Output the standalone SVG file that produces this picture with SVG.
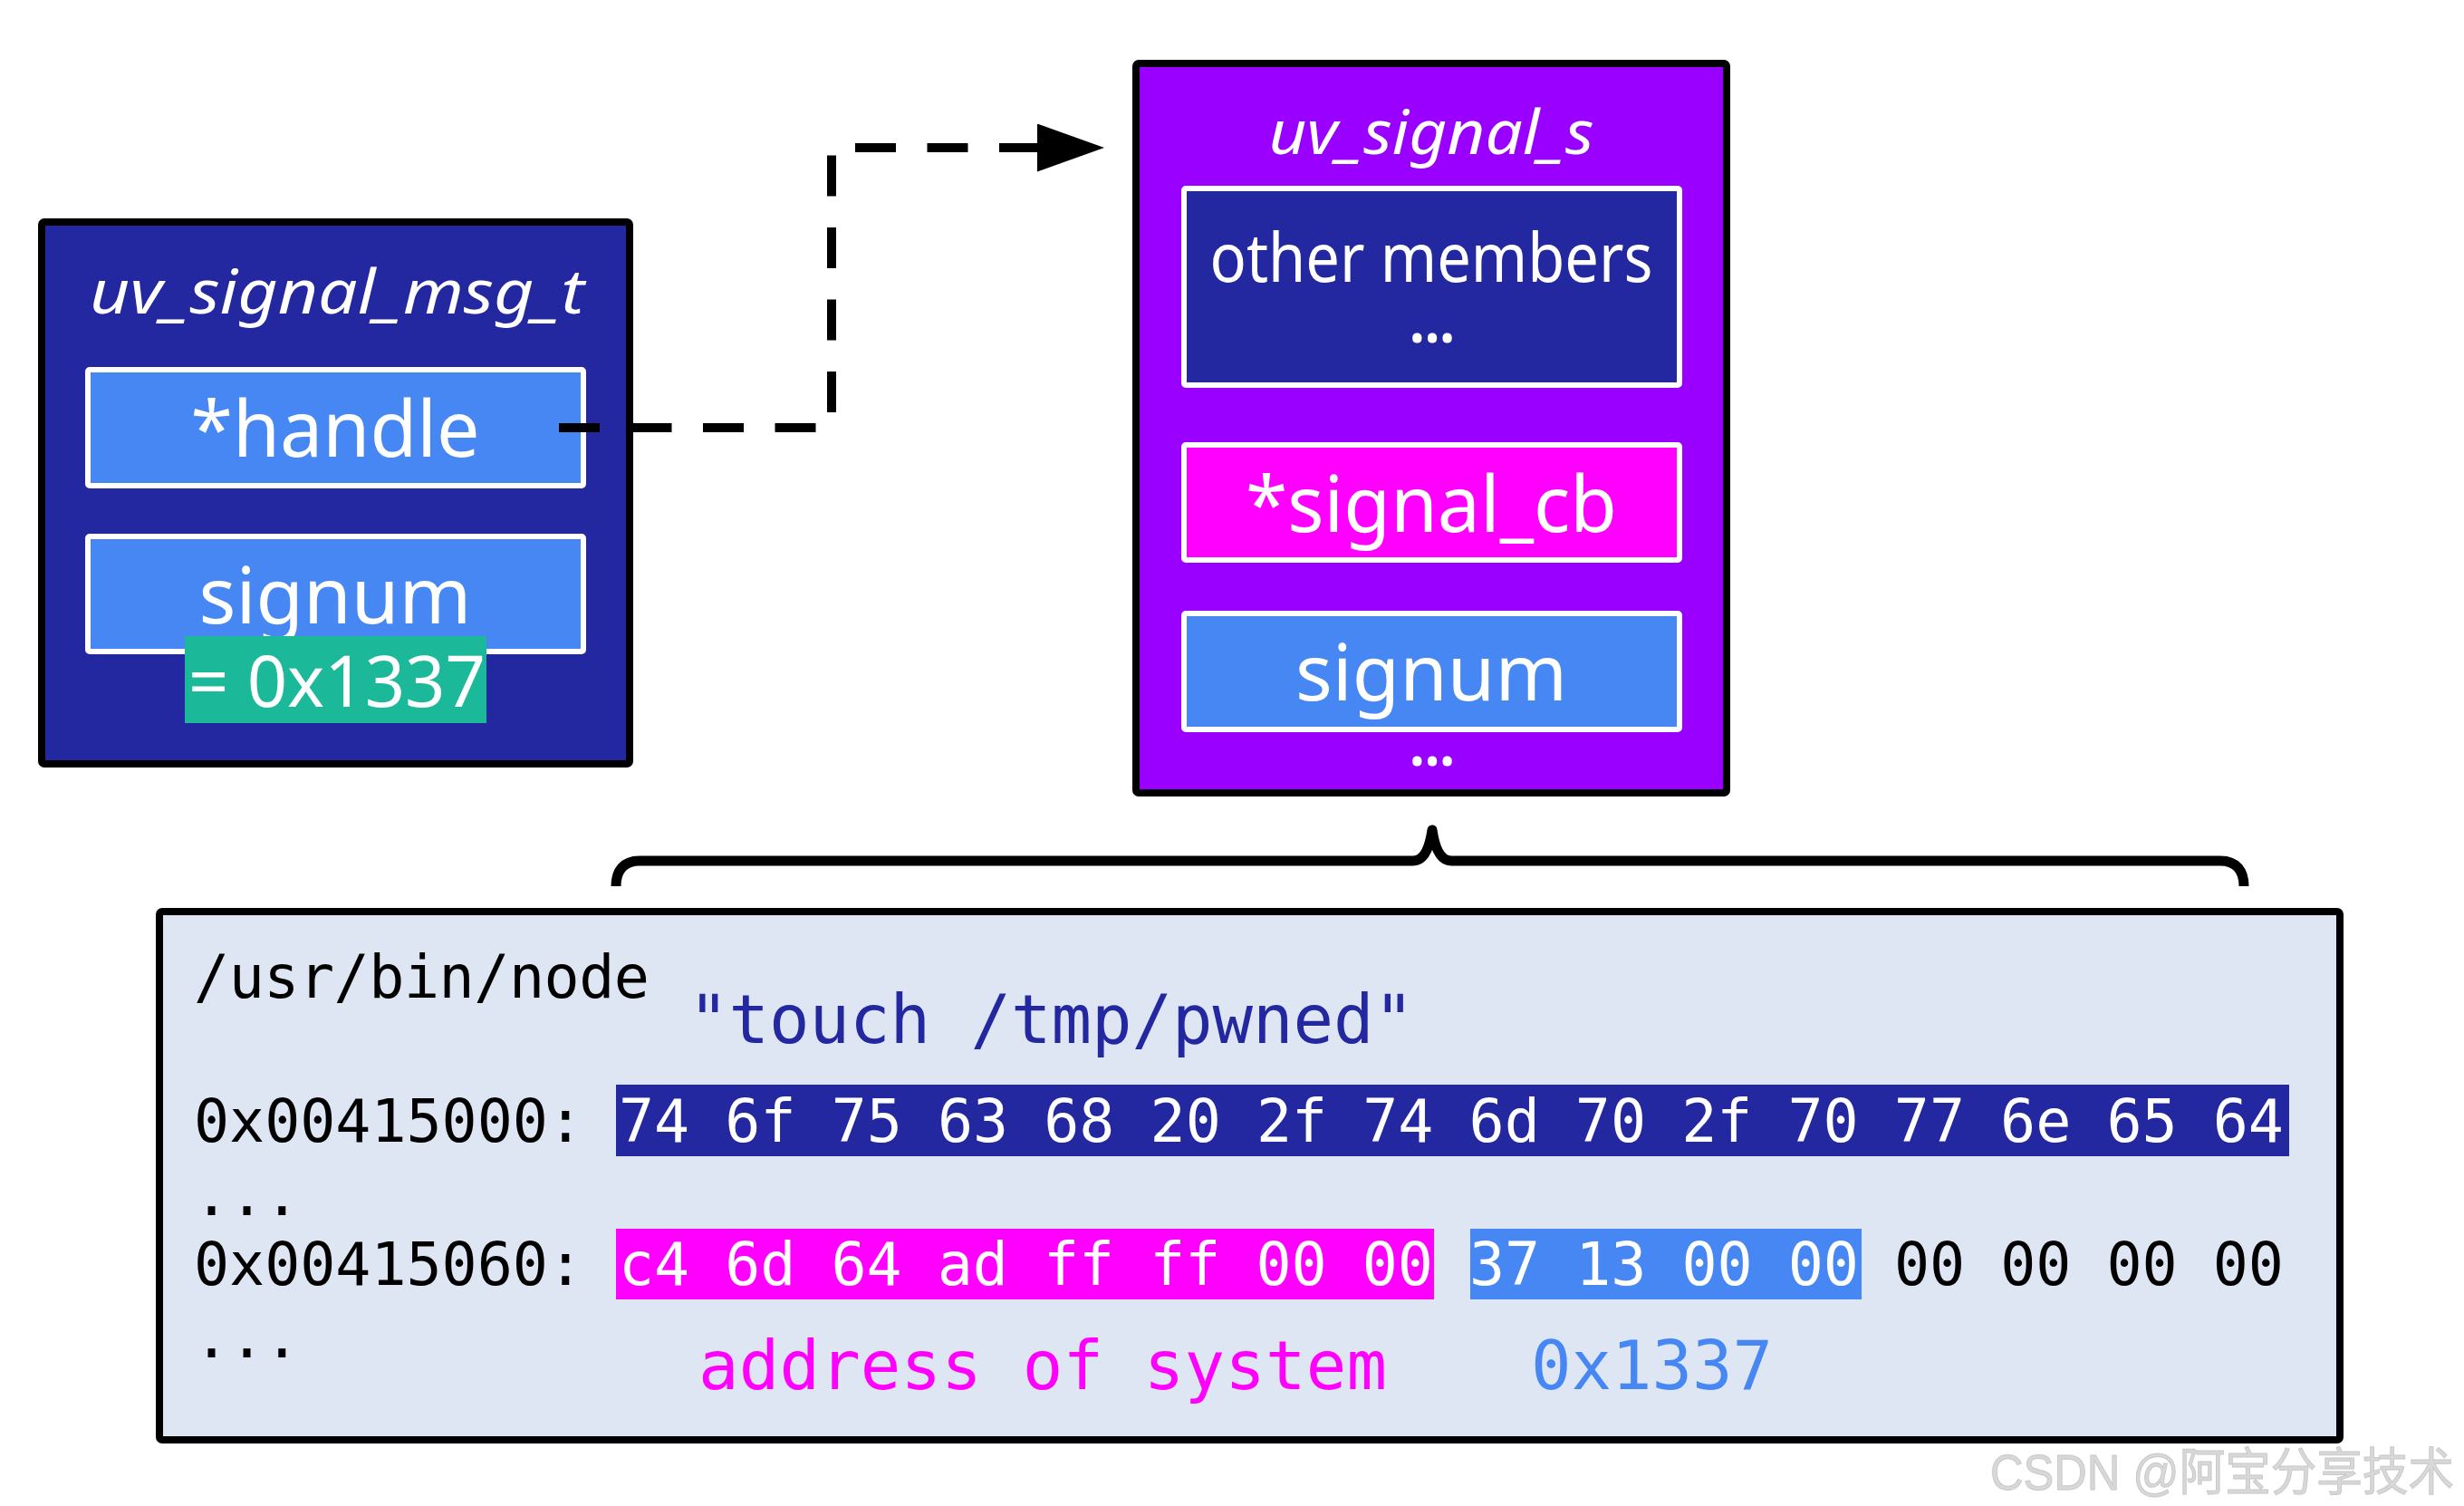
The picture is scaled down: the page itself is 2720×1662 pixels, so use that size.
<svg xmlns="http://www.w3.org/2000/svg" width="2720" height="1662" viewBox="0 0 2720 1662">
  <style>
    .outer { stroke: #000; stroke-width: 8; }
    .field { stroke: #fff; stroke-width: 6; }
    .lbl { font-family: "Noto Sans", "Open Sans", sans-serif; fill: #fff; text-anchor: middle; }
    .ttl { font-style: italic; font-size: 68px; }
    .dots { font-weight: bold; font-size: 66px; }
    .mono { font-family: "DejaVu Sans Mono", "Liberation Mono", monospace; font-size: 65px; }
    .mono2 { font-family: "DejaVu Sans Mono", "Liberation Mono", monospace; font-size: 74px; }
  </style>
  <defs>
    <marker id="arrow" markerUnits="userSpaceOnUse" markerWidth="74" markerHeight="53" viewBox="0 0 74 53" refX="5" refY="26.5" orient="auto">
      <path d="M0,0 L74,26.5 L0,53 Z" fill="#000"/>
    </marker>
  </defs>
  <rect width="2720" height="1662" fill="#fff"/>

  <g id="node-uv-signal-msg-t">
    <rect class="outer" x="46" y="245" width="649" height="598" rx="3" fill="#2328a1"/>
    <text class="lbl ttl" x="372" y="346" textLength="546" lengthAdjust="spacingAndGlyphs">uv_signal_msg_t</text>
    <rect class="field" x="97" y="408" width="547" height="128" rx="2" fill="#4687f4"/>
    <text class="lbl" x="370" y="504" font-size="86" textLength="319" lengthAdjust="spacingAndGlyphs">*handle</text>
    <rect class="field" x="97" y="592" width="547" height="127" rx="2" fill="#4687f4"/>
    <text class="lbl" x="370" y="688" font-size="86" textLength="301" lengthAdjust="spacingAndGlyphs">signum</text>
    <rect x="204" y="702" width="333" height="96" fill="#1bb99a"/>
    <text class="lbl" x="372" y="780" font-size="78" textLength="328" lengthAdjust="spacingAndGlyphs">= 0x1337</text>
  </g>

  <g id="node-uv-signal-s">
    <rect class="outer" x="1254" y="70" width="652" height="805" rx="3" fill="#9900ff"/>
    <text class="lbl ttl" x="1580" y="170" textLength="359" lengthAdjust="spacingAndGlyphs">uv_signal_s</text>
    <rect class="field" x="1307" y="208" width="547" height="217" rx="2" fill="#2328a1"/>
    <text class="lbl" x="1580" y="311" font-size="74" textLength="489" lengthAdjust="spacingAndGlyphs">other members</text>
    <text class="lbl dots" x="1581" y="378" textLength="50" lengthAdjust="spacingAndGlyphs">...</text>
    <rect class="field" x="1307" y="491" width="547" height="127" rx="2" fill="#ff00ff"/>
    <text class="lbl" x="1580" y="587" font-size="86" textLength="410" lengthAdjust="spacingAndGlyphs">*signal_cb</text>
    <rect class="field" x="1307" y="677" width="547" height="128" rx="2" fill="#4687f4"/>
    <text class="lbl" x="1580" y="773" font-size="86" textLength="300" lengthAdjust="spacingAndGlyphs">signum</text>
    <text class="lbl dots" x="1581" y="845" textLength="50" lengthAdjust="spacingAndGlyphs">...</text>
  </g>

  <g id="node-memory">
    <rect class="outer" x="176" y="1006" width="2407" height="583" rx="3" fill="#dde6f2" stroke-width="7"/>
    <text class="mono" x="214" y="1101" fill="#000" textLength="503" lengthAdjust="spacing">/usr/bin/node</text>
    <text class="mono2" x="760" y="1151" fill="#2328a1" textLength="801" lengthAdjust="spacing">"touch /tmp/pwned"</text>
    <rect x="680" y="1197" width="1847" height="79" fill="#2328a1"/>
    <text class="mono" x="214" y="1260" fill="#000" textLength="430" lengthAdjust="spacing">0x00415000:</text>
    <text class="mono" x="683" y="1260" fill="#fff" textLength="1838" lengthAdjust="spacing">74 6f 75 63 68 20 2f 74 6d 70 2f 70 77 6e 65 64</text>
    <text class="mono" x="214" y="1341" fill="#000" textLength="117" lengthAdjust="spacing">...</text>
    <rect x="680" y="1356" width="903" height="78" fill="#ff00ff"/>
    <rect x="1623" y="1356" width="432" height="78" fill="#4687f4"/>
    <text class="mono" x="214" y="1418" fill="#000" textLength="430" lengthAdjust="spacing">0x00415060:</text>
    <text class="mono" x="683" y="1418" fill="#fff" textLength="899" lengthAdjust="spacing">c4 6d 64 ad ff ff 00 00</text>
    <text class="mono" x="1622" y="1418" fill="#fff" textLength="430" lengthAdjust="spacing">37 13 00 00</text>
    <text class="mono" x="2091" y="1418" fill="#000" textLength="430" lengthAdjust="spacing">00 00 00 00</text>
    <text class="mono" x="214" y="1498" fill="#000" textLength="117" lengthAdjust="spacing">...</text>
    <text class="mono2" x="771" y="1533" fill="#ff00ff" textLength="760" lengthAdjust="spacing">address of system</text>
    <text class="mono2" x="1690" y="1533" fill="#4687f4" textLength="267" lengthAdjust="spacing">0x1337</text>
  </g>

  <g id="connectors" fill="none" stroke="#000">
    <path id="ptr-handle" d="M617,472 H918 V163 H1150" stroke-width="10" stroke-dasharray="45 34.5" marker-end="url(#arrow)"/>
    <path id="brace" d="M680,978 C680,961 688,950 706,950 H1560 C1572,950 1578,936 1581,916 C1584,936 1590,950 1602,950 H2451 C2469,950 2477,961 2477,978" stroke-width="11" stroke-linejoin="round"/>
  </g>

  <text x="2197" y="1644" font-family="Liberation Sans, Noto Sans CJK SC, sans-serif" font-size="56" fill="#d8d8d8" stroke="#c8c8c8" stroke-width="1" textLength="512" lengthAdjust="spacingAndGlyphs">CSDN @阿宝分享技术</text>
</svg>
